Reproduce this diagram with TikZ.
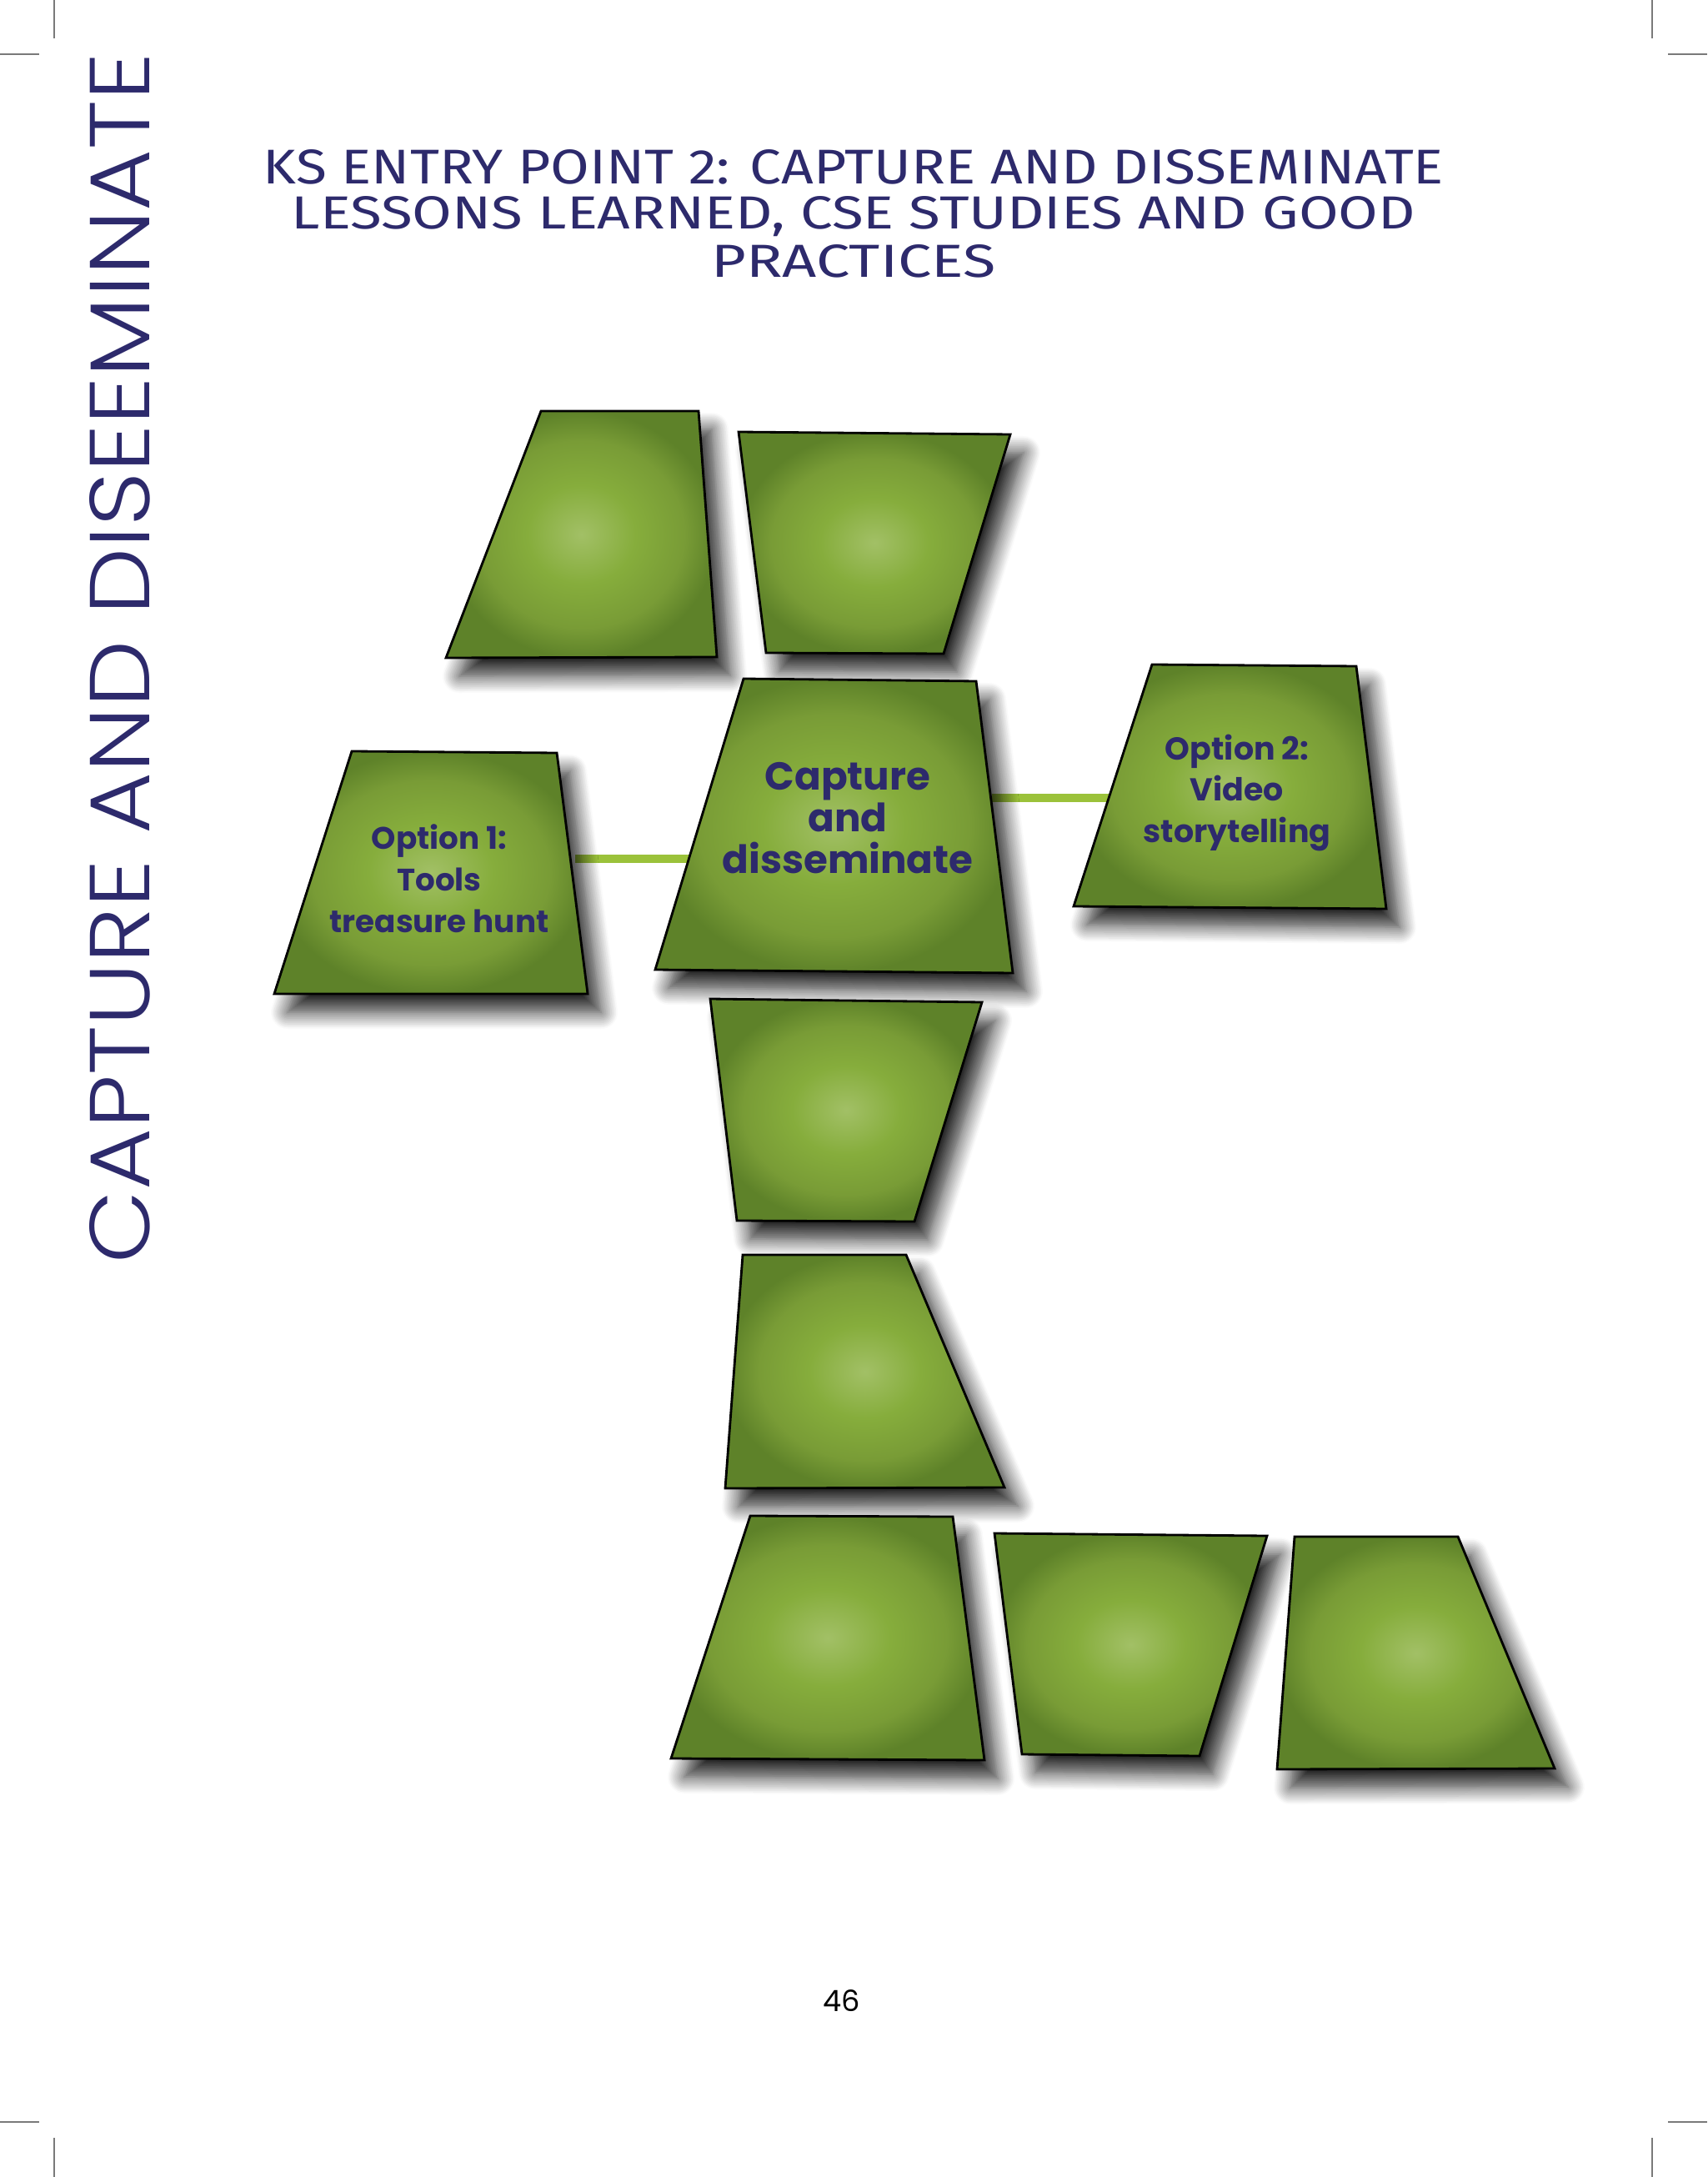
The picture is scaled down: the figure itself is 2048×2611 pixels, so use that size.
\documentclass[tikz,border=0pt]{standalone}
\usepackage{fontspec}
\usepackage{graphicx}
\usetikzlibrary{shadows.blur}
\newfontfamily\gothic{Poppins}
\IfFontExistsTF{Poppins Light}{\newfontfamily\gothicthin{Poppins Light}}{\newfontfamily\gothicthin{Poppins}}
\newfontfamily\hand{Fira Sans}
\definecolor{navy}{HTML}{2D2A6C}
\definecolor{leaf}{HTML}{86AD3C}
\definecolor{leafdark}{HTML}{5E8229}
\definecolor{leaflight}{HTML}{A2C066}
\definecolor{linkgreen}{HTML}{9BC23A}
\definecolor{cropgray}{HTML}{7A7A7A}
\pgfdeclareradialshading{leafshade}{\pgfpoint{0bp}{0bp}}{color(0bp)=(leaflight); color(10bp)=(leaf); color(19bp)=(leaf!90!black); color(25bp)=(leafdark); color(50bp)=(leafdark)}

\begin{document}
\begin{tikzpicture}[x=0.1mm, y=-0.1mm]
  \tikzstyle{tile}=[draw=black, line width=0.8pt, shading=leafshade,
    blur shadow={shadow xshift=1.6mm, shadow yshift=-2.2mm, shadow blur radius=2mm, shadow blur steps=12, shadow opacity=85}]
  \tikzstyle{link}=[linkgreen, line width=2.8pt]
  \tikzstyle{crop}=[cropgray, line width=0.35pt]
  \tikzstyle{label}=[text=navy, align=center, font=\gothic\bfseries]
  \tikzstyle{heading}=[text=navy, inner sep=0pt]
  \useasboundingbox (0,0) rectangle (2048,2611);

  % crop marks
  \draw[crop] (65,0) -- (65,46);
  \draw[crop] (0,65) -- (47,65);
  \draw[crop] (1982,0) -- (1982,46);
  \draw[crop] (2001,65) -- (2048,65);
  \draw[crop] (0,2545) -- (47,2545);
  \draw[crop] (65,2564) -- (65,2611);
  \draw[crop] (2001,2545) -- (2048,2545);
  \draw[crop] (1982,2564) -- (1982,2611);

  % side title
  \node[rotate=90, heading] (side) at (144,789)
    {\resizebox{145.2mm}{7.2mm}{\gothicthin CAPTURE AND DISEEMINATE}};

  % heading
  \node[heading] (head1) at (1024,200)
    {\resizebox{141.6mm}{4.1mm}{\hand KS ENTRY POINT 2: CAPTURE AND DISSEMINATE}};
  \node[heading] (head2) at (1024,260)
    {\resizebox{134.8mm}{3.9mm}{\hand LESSONS LEARNED, CSE STUDIES AND GOOD}};
  \node[heading] (head3) at (1024,313)
    {\resizebox{34.1mm}{3.9mm}{\hand PRACTICES}};

  % connectors
  \coordinate (o1r) at (690,1030);
  \coordinate (capl) at (830,1030);
  \coordinate (capr) at (1190,957);
  \coordinate (o2l) at (1340,957);
  \draw[link] (o1r) -- (capl);
  \draw[link] (capr) -- (o2l);

  % tiles
  \path[tile] (649,493) -- (838,493) -- (860,788) -- (535,789) -- cycle;
  \path[tile] (886,518) -- (1212,521) -- (1132,784) -- (919,783) -- cycle;
  \path[tile] (892,814) -- (1171,817) -- (1215,1167) -- (786,1163) -- cycle;
  \path[tile] (422,901) -- (668,903) -- (705,1192) -- (329,1192) -- cycle;
  \path[tile] (1382,797) -- (1627,799) -- (1663,1090) -- (1288,1087) -- cycle;
  \path[tile] (852,1198) -- (1178,1202) -- (1097,1465) -- (884,1464) -- cycle;
  \path[tile] (891,1505) -- (1087,1505) -- (1205,1784) -- (870,1785) -- cycle;
  \path[tile] (900,1818) -- (1143,1819) -- (1181,2111) -- (805,2109) -- cycle;
  \path[tile] (1193,1839) -- (1520,1842) -- (1439,2106) -- (1226,2104) -- cycle;
  \path[tile] (1553,1843) -- (1749,1843) -- (1865,2121) -- (1532,2122) -- cycle;

  % labels
  \node[label, font=\gothic\bfseries\fontsize{13.3}{14.2}\selectfont] (capt) at (1017,981)
    {Capture\\and\\disseminate};
  \node[label, font=\gothic\bfseries\fontsize{10.6}{14.2}\selectfont] (opt1) at (527,1054)
    {Option 1:\\Tools\\treasure hunt};
  \node[label, font=\gothic\bfseries\fontsize{10.8}{14.2}\selectfont] (opt2) at (1484,951)
    {Option 2:\\Video\\storytelling};

  % page number
  \node[font=\gothic\fontsize{10}{12}\selectfont] (page) at (1010,2400) {46};
\end{tikzpicture}
\end{document}
